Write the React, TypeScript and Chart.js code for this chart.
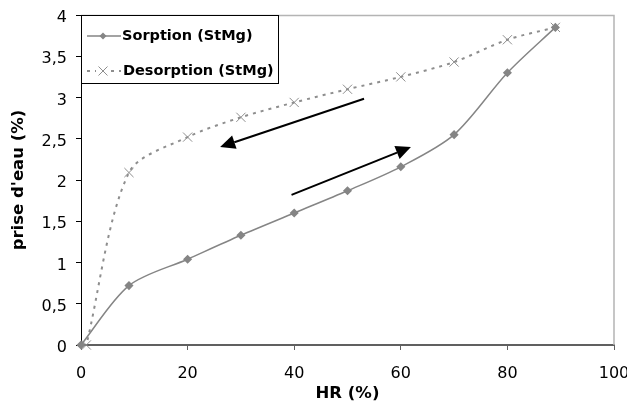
import React, { useEffect, useRef } from 'react';
import { Chart, registerables } from 'chart.js';

Chart.register(...registerables);

// ---- data ----
const seriesNames = ['Sorption (StMg)', 'Desorption (StMg)'];
const sorptionHR = [0, 9, 20, 30, 40, 50, 60, 70, 80, 89];
const sorptionVals = [0, 0.72, 1.04, 1.33, 1.6, 1.87, 2.16, 2.55, 3.3, 3.85];
const desorptionHR = [89, 80, 70, 60, 50, 40, 30, 20, 9, 1];
const desorptionVals = [3.85, 3.7, 3.43, 3.25, 3.1, 2.94, 2.76, 2.52, 2.09, 0];
const xTickValues = [0, 20, 40, 60, 80, 100];
const yTickValues = [0, 0.5, 1, 1.5, 2, 2.5, 3, 3.5, 4];
const xTitle = 'HR (%)';
const yTitle = "prise d'eau (%)";
// annotation arrows (data units): [HR, value]
const arrowTails = [[53.1, 2.985], [39.5, 1.82]];
const arrowTips = [[26.1, 2.4], [61.9, 2.4]];

const FONT = "'DejaVu Sans', Verdana, sans-serif";
const SORP_COLOR = '#858585';
const DESORP_COLOR = '#8e8e8e';

const extrasPlugin = {
  id: 'extras',
  beforeDatasetsDraw(chart: any) {
    const { ctx, chartArea: a } = chart;
    ctx.save();
    ctx.strokeStyle = '#b4b4b4';
    ctx.lineWidth = 1.5;
    ctx.beginPath();
    ctx.moveTo(a.left, a.top + 0.5);
    ctx.lineTo(a.right, a.top + 0.5);
    ctx.lineTo(a.right, a.bottom);
    ctx.stroke();
    ctx.restore();
  },
  afterDraw(chart: any) {
    const { ctx, chartArea: a, scales } = chart;
    const xs = scales.x;
    const ys = scales.y;
    // arrows
    ctx.save();
    ctx.strokeStyle = '#000';
    ctx.fillStyle = '#000';
    ctx.lineWidth = 2;
    for (let i = 0; i < arrowTails.length; i++) {
      const x1 = xs.getPixelForValue(arrowTails[i][0]);
      const y1 = ys.getPixelForValue(arrowTails[i][1]);
      const x2 = xs.getPixelForValue(arrowTips[i][0]);
      const y2 = ys.getPixelForValue(arrowTips[i][1]);
      const ang = Math.atan2(y2 - y1, x2 - x1);
      const hl = 15;
      const hw = 7;
      const bx = x2 - hl * Math.cos(ang);
      const by = y2 - hl * Math.sin(ang);
      ctx.beginPath();
      ctx.moveTo(x1, y1);
      ctx.lineTo(bx, by);
      ctx.stroke();
      ctx.beginPath();
      ctx.moveTo(x2, y2);
      ctx.lineTo(bx + hw * Math.sin(ang), by - hw * Math.cos(ang));
      ctx.lineTo(bx - hw * Math.sin(ang), by + hw * Math.cos(ang));
      ctx.closePath();
      ctx.fill();
    }
    ctx.restore();

    // legend
    ctx.save();
    const lx = a.left;
    const ly = a.top;
    const lw = 198;
    const lh = 69;
    ctx.fillStyle = '#fff';
    ctx.fillRect(lx, ly, lw, lh);
    ctx.strokeStyle = '#000';
    ctx.lineWidth = 1;
    ctx.strokeRect(lx + 0.5, ly + 0.5, lw - 1, lh - 1);
    const rows = [ly + 21, ly + 56];
    // sorption sample
    ctx.strokeStyle = SORP_COLOR;
    ctx.lineWidth = 1.5;
    ctx.beginPath();
    ctx.moveTo(lx + 6, rows[0]);
    ctx.lineTo(lx + 40, rows[0]);
    ctx.stroke();
    ctx.fillStyle = SORP_COLOR;
    ctx.beginPath();
    const mx = lx + 22;
    ctx.moveTo(mx, rows[0] - 3.5);
    ctx.lineTo(mx + 3.5, rows[0]);
    ctx.lineTo(mx, rows[0] + 3.5);
    ctx.lineTo(mx - 3.5, rows[0]);
    ctx.closePath();
    ctx.fill();
    // desorption sample
    ctx.strokeStyle = DESORP_COLOR;
    ctx.lineWidth = 2;
    ctx.setLineDash([3, 5]);
    ctx.beginPath();
    ctx.moveTo(lx + 6, rows[1]);
    ctx.lineTo(lx + 40, rows[1]);
    ctx.stroke();
    ctx.setLineDash([]);
    ctx.fillStyle = '#fff';
    ctx.fillRect(lx + 15, rows[1] - 5, 14, 10);
    ctx.lineWidth = 1;
    ctx.beginPath();
    const dx = lx + 22;
    ctx.moveTo(dx - 4.5, rows[1] - 4.5);
    ctx.lineTo(dx + 4.5, rows[1] + 4.5);
    ctx.moveTo(dx + 4.5, rows[1] - 4.5);
    ctx.lineTo(dx - 4.5, rows[1] + 4.5);
    ctx.stroke();
    // text
    ctx.fillStyle = '#000';
    ctx.font = `bold 14.5px ${FONT}`;
    ctx.textBaseline = 'middle';
    ctx.textAlign = 'left';
    ctx.fillText(seriesNames[0], lx + 41, rows[0]);
    ctx.fillText(seriesNames[1], lx + 42, rows[1]);
    ctx.restore();
  },
};

export default function App() {
  const ref = useRef<HTMLCanvasElement | null>(null);
  useEffect(() => {
    if (!ref.current) return;
    const chart = new Chart(ref.current, {
      type: 'line',
      data: {
        datasets: [
          {
            label: seriesNames[0],
            data: sorptionHR.map((x, i) => ({ x, y: sorptionVals[i] })),
            borderColor: SORP_COLOR,
            backgroundColor: SORP_COLOR,
            borderWidth: 1.5,
            tension: 0.3,
            pointStyle: 'rectRot',
            pointRadius: 3.5,
            pointBackgroundColor: SORP_COLOR,
            pointBorderColor: SORP_COLOR,
            clip: 10,
          },
          {
            label: seriesNames[1],
            data: desorptionHR.map((x, i) => ({ x, y: desorptionVals[i] })),
            borderColor: DESORP_COLOR,
            backgroundColor: 'rgba(0,0,0,0)',
            borderWidth: 2,
            borderDash: [3, 5],
            tension: 0.3,
            pointStyle: 'crossRot',
            pointRadius: 6.5,
            pointBorderWidth: 1,
            pointBorderColor: DESORP_COLOR,
            clip: 10,
          },
        ],
      },
      options: {
        animation: false,
        responsive: false,
        layout: { padding: { top: 15, right: 13, left: 0, bottom: 0 } },
        plugins: { legend: { display: false }, tooltip: { enabled: false } },
        scales: {
          x: {
            type: 'linear',
            min: 0,
            max: 100,
            afterBuildTicks: (s: any) => {
              s.ticks = xTickValues.map((v) => ({ value: v }));
            },
            afterFit: (s: any) => {
              s.height = 58;
              s.paddingLeft = 0;
              s.paddingRight = 0;
            },
            border: { color: '#606060', width: 2 },
            grid: { drawOnChartArea: false, drawTicks: true, tickLength: 5, color: '#606060', lineWidth: 1 },
            ticks: { color: '#000', font: { family: FONT, size: 16 }, padding: 14, maxRotation: 0 },
            title: { display: true, text: xTitle, color: '#000', font: { family: FONT, size: 16.5, weight: 'bold' }, padding: { top: 0, bottom: -1 } },
          },
          y: {
            type: 'linear',
            min: 0,
            max: 4,
            afterBuildTicks: (s: any) => {
              s.ticks = yTickValues.map((v) => ({ value: v }));
            },
            afterFit: (s: any) => {
              s.width = 81;
              s.paddingTop = 0;
              s.paddingBottom = 0;
            },
            border: { color: '#000', width: 1 },
            grid: { drawOnChartArea: false, drawTicks: true, tickLength: 5, color: '#000', lineWidth: 1 },
            ticks: {
              color: '#000',
              font: { family: FONT, size: 16 },
              padding: 9,
              labelOffset: 3,
              callback: (v: any) => String(v).replace('.', ','),
            },
            title: { display: true, text: yTitle, color: '#000', font: { family: FONT, size: 16.5, weight: 'bold' }, padding: { top: 9, bottom: 0 } },
          },
        },
      },
      plugins: [extrasPlugin],
    });
    return () => chart.destroy();
  }, []);
  return (
    <div style={{ position: 'fixed', left: 0, top: 0, width: 627, height: 403, background: '#fff' }}>
      <canvas ref={ref} width={627} height={403} style={{ display: 'block', width: 627, height: 403 }} />
    </div>
  );
}
